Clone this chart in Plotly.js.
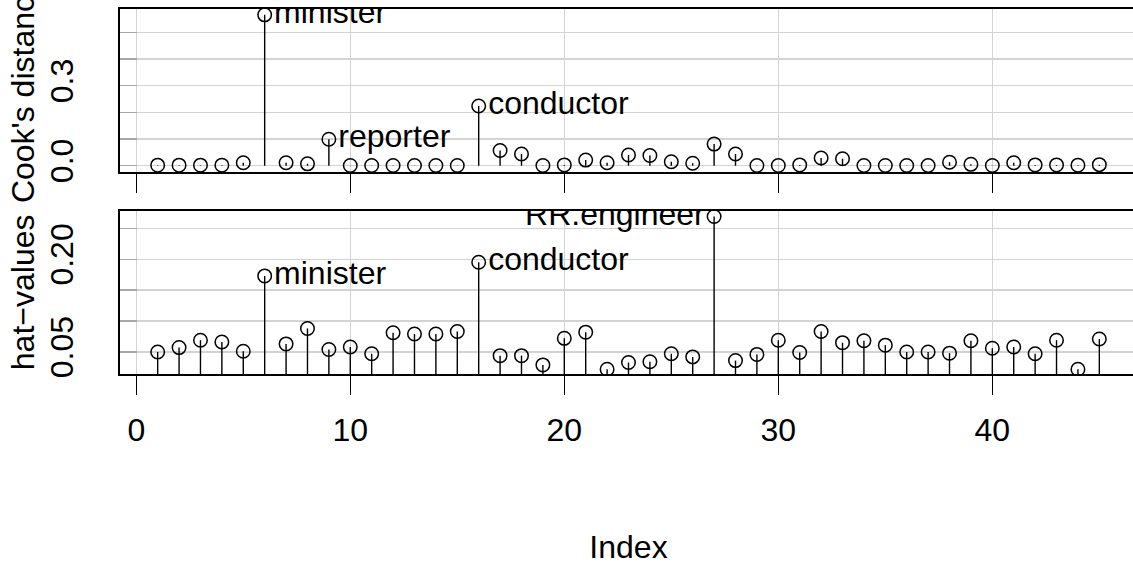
<!DOCTYPE html>
<html><head><meta charset="utf-8">
<script src="https://cdn.plot.ly/plotly-3.0.1.min.js"></script>
<style>html,body{margin:0;padding:0;overflow:hidden;background:#fff}</style>
</head><body><div id="chart" style="width:1137px;height:567px"></div>
<script>
const obsIndex = [1,2,3,4,5,6,7,8,9,10,11,12,13,14,15,16,17,18,19,20,21,22,23,24,25,26,27,28,29,30,31,32,33,34,35,36,37,38,39,40,41,42,43,44,45];
const cooksD = [0.002,0.002,0.002,0.002,0.011,0.566,0.011,0.007,0.099,0.001,0.001,0.001,0.001,0.001,0.001,0.224,0.057,0.044,0.001,0.003,0.021,0.011,0.040,0.038,0.015,0.009,0.081,0.044,0.001,0.001,0.003,0.029,0.026,0.001,0.001,0.001,0.001,0.013,0.005,0.001,0.011,0.003,0.003,0.002,0.004];
const hatValues = [0.050,0.057,0.069,0.066,0.051,0.173,0.063,0.088,0.054,0.058,0.047,0.081,0.079,0.079,0.083,0.195,0.044,0.044,0.029,0.072,0.082,0.022,0.033,0.034,0.047,0.042,0.269,0.036,0.046,0.069,0.049,0.083,0.065,0.068,0.061,0.050,0.050,0.048,0.068,0.056,0.058,0.047,0.069,0.022,0.071];
const cookLabelIdx = [6, 9, 16];
const cookLabelText = ["minister", "reporter", "conductor"];
const cookLabelSide = ["middle right", "middle right", "middle right"];
const hatLabelIdx = [6, 16, 27];
const hatLabelText = ["minister", "conductor", "RR.engineer"];
const hatLabelSide = ["middle right", "middle right", "middle left"];
const xTicks = [0, 10, 20, 30, 40];
const cookTicks = [0, 0.1, 0.2, 0.3, 0.4, 0.5];
const cookTickText = ["0.0", "", "", "0.3", "", ""];
const hatTicks = [0.05, 0.10, 0.15, 0.20, 0.25];
const hatTickText = ["0.05", "", "", "0.20", ""];

const FONT = "Liberation Sans, Arial, Helvetica, sans-serif";

function stems(x, y) {
  const xs = [], ys = [];
  x.forEach((v, i) => { xs.push(v, v, null); ys.push(0, y[i], null); });
  return {xs, ys};
}
function labels(n, idx, txt, side) {
  const t = new Array(n).fill(""), p = new Array(n).fill("middle right");
  idx.forEach((k, j) => { t[k - 1] = txt[j]; p[k - 1] = side[j]; });
  return {t, p};
}
const s1 = stems(obsIndex, cooksD), s2 = stems(obsIndex, hatValues);
const l1 = labels(obsIndex.length, cookLabelIdx, cookLabelText, cookLabelSide);
const l2 = labels(obsIndex.length, hatLabelIdx, hatLabelText, hatLabelSide);

const markerStyle = {symbol: "circle-open", size: 13.5, color: "#000", line: {width: 1.5, color: "#000"}};
const textFont = {family: FONT, size: 32, color: "#000"};

const data = [
  {x: s1.xs, y: s1.ys, xaxis: "x", yaxis: "y", mode: "lines", line: {color: "#000", width: 1.4}, hoverinfo: "skip"},
  {x: obsIndex, y: cooksD, xaxis: "x", yaxis: "y", mode: "markers+text", marker: markerStyle,
   text: l1.t, textposition: l1.p, textfont: textFont, cliponaxis: true},
  {x: s2.xs, y: s2.ys, xaxis: "x2", yaxis: "y2", mode: "lines", line: {color: "#000", width: 1.4}, hoverinfo: "skip"},
  {x: obsIndex, y: hatValues, xaxis: "x2", yaxis: "y2", mode: "markers+text", marker: markerStyle,
   text: l2.t, textposition: l2.p, textfont: textFont, cliponaxis: true}
];

const xCommon = {
  range: [-0.76, 46.76], tickmode: "array", tickvals: xTicks,
  ticks: "outside", ticklen: 19, tickwidth: 1.3, tickcolor: "#000",
  showgrid: true, gridcolor: "#d3d3d3", gridwidth: 1.3, zeroline: false,
  showline: true, mirror: true, linecolor: "#000", linewidth: 2,
  automargin: false, fixedrange: true
};
const yCommon = {
  tickmode: "array", tickangle: -90,
  ticks: "inside", ticklen: 17, tickwidth: 1.3, tickcolor: "#a8a8a8",
  showgrid: true, gridcolor: "#d3d3d3", gridwidth: 1.3, zeroline: false,
  showline: true, mirror: true, linecolor: "#000", linewidth: 2,
  automargin: false, fixedrange: true, tickfont: textFont, ticklabelstandoff: 32
};

const layout = {
  width: 1137, height: 567,
  margin: {l: 120, r: 0, t: 9, b: 193},
  paper_bgcolor: "#fff", plot_bgcolor: "#fff",
  showlegend: false,
  font: {family: FONT, size: 32, color: "#000"},
  xaxis: Object.assign({}, xCommon, {anchor: "y", domain: [0, 1], showticklabels: false}),
  yaxis: Object.assign({}, yCommon, {anchor: "x", domain: [0.5526, 1], range: [-0.0248, 0.588],
    tickvals: cookTicks, ticktext: cookTickText,
    title: {text: "Cook's distance", font: textFont, standoff: 0}}),
  xaxis2: Object.assign({}, xCommon, {anchor: "y2", domain: [0, 1], showticklabels: true, tickfont: textFont,
    ticklabelstandoff: 8,
    title: {text: "Index", font: textFont, standoff: 88}}),
  yaxis2: Object.assign({}, yCommon, {anchor: "x2", domain: [0, 0.4474], range: [0.0143, 0.2785],
    tickvals: hatTicks, ticktext: hatTickText,
    title: {text: "hat\u2212values", font: textFont, standoff: 0}})
};

Plotly.newPlot("chart", data, layout, {staticPlot: true, displayModeBar: false});
</script>
</body></html>
